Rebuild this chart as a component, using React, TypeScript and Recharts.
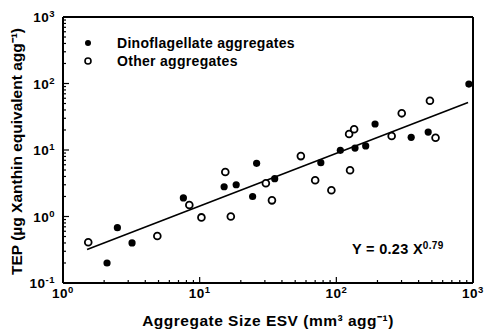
import {
  ScatterChart,
  Scatter,
  XAxis,
  YAxis,
  ReferenceLine,
  Legend,
} from 'recharts'

// aggregate size ESV (mm3 agg-1) vs TEP (ug Xanthin equivalent agg-1)
const dinoX = [2.1, 2.5, 3.2, 7.6, 15.1, 18.5, 24.4, 26.1, 35.4, 77, 107, 137, 164, 192, 353, 470, 933]
const dinoY = [0.2, 0.68, 0.4, 1.9, 2.8, 3.0, 2.0, 6.3, 3.7, 6.45, 9.9, 10.7, 11.5, 24.6, 15.5, 18.6, 98]

const otherX = [1.53, 4.9, 8.4, 10.3, 15.4, 16.9, 30.5, 33.8, 55, 70, 92, 124, 135, 126, 254, 301, 484, 532]
const otherY = [0.41, 0.51, 1.49, 0.97, 4.67, 1.0, 3.16, 1.75, 8.1, 3.5, 2.48, 17.4, 20.5, 4.95, 16.2, 35.6, 55, 15.3]

// end points of the fitted line
const fitX = [1.5, 920]
const fitY = [0.32, 52]

const xDecades = [1, 10, 100, 1000]
const xExp = ['0', '1', '2', '3']
const yDecades = [0.1, 1, 10, 100, 1000]
const yExp = ['-1', '0', '1', '2', '3']

const minorTicks = (decades: number[]) => {
  const out: number[] = []
  decades.slice(0, -1).forEach((d) => {
    for (let m = 1; m < 10; m++) out.push(d * m)
  })
  out.push(decades[decades.length - 1])
  return out
}

const dino = dinoX.map((x, i) => ({ x, y: dinoY[i] }))
const other = otherX.map((x, i) => ({ x, y: otherY[i] }))
const fit = fitX.map((x, i) => ({ x, y: fitY[i] }))

const FONT = '"Liberation Sans", Arial, Helvetica, sans-serif'

function XTick({ x, y, payload }: any) {
  const i = xDecades.findIndex((d) => Math.abs(d - payload.value) < 1e-9)
  const major = i >= 0
  return (
    <g>
      <line x1={x} x2={x} y1={y} y2={y - (major ? 6 : 3)} stroke="#000" strokeWidth={1.2} />
      {major && (
        <text x={x} y={y + 15} textAnchor="middle" fontSize={13.5} fontWeight={700} fill="#000" fontFamily={FONT} letterSpacing={0.5}>
          <tspan>10</tspan>
          <tspan dy={-5} fontSize={9.5}>{xExp[i]}</tspan>
        </text>
      )}
    </g>
  )
}

function YTick({ x, y, payload }: any) {
  const i = yDecades.findIndex((d) => Math.abs(d - payload.value) / d < 1e-6)
  const major = i >= 0
  return (
    <g>
      <line x1={x} x2={x + (major ? 6 : 3)} y1={y} y2={y} stroke="#000" strokeWidth={1.2} />
      {major && (
        <text x={x - 8} y={y + 5} textAnchor="end" fontSize={13.5} fontWeight={700} fill="#000" fontFamily={FONT} letterSpacing={0.5}>
          <tspan>10</tspan>
          <tspan dy={-5} fontSize={9.5}>{yExp[i]}</tspan>
        </text>
      )}
    </g>
  )
}

const filledDot = (p: any) => <circle cx={p.cx} cy={p.cy} r={3.6} fill="#000" />
const openDot = (p: any) => <circle cx={p.cx} cy={p.cy} r={3.4} fill="#fff" stroke="#000" strokeWidth={1.8} />

function LegendBox() {
  const rows = [
    { label: 'Dinoflagellate aggregates', filled: true },
    { label: 'Other aggregates', filled: false },
  ]
  return (
    <div style={{ fontFamily: FONT, fontSize: 14, fontWeight: 700, lineHeight: '18px', letterSpacing: 0.3 }}>
      {rows.map((r) => (
        <div key={r.label} style={{ display: 'flex', alignItems: 'center' }}>
          <svg width={34} height={18}>
            {r.filled ? (
              <circle cx={5} cy={9} r={3} fill="#000" />
            ) : (
              <circle cx={5} cy={9} r={3} fill="#fff" stroke="#000" strokeWidth={1.6} />
            )}
          </svg>
          <span>{r.label}</span>
        </div>
      ))}
    </div>
  )
}

export default function App() {
  return (
    <div style={{ position: 'absolute', left: 0, top: 0, background: '#fff' }}>
      <ScatterChart width={487} height={330} margin={{ top: 17, right: 14, bottom: 17, left: 8 }}>
        <XAxis
          dataKey="x"
          type="number"
          scale="log"
          domain={[1, 1000]}
          allowDataOverflow
          ticks={minorTicks(xDecades)}
          interval={0}
          tickSize={0}
          tickMargin={0}
          height={30}
          tick={<XTick />}
          axisLine={{ stroke: '#000', strokeWidth: 2 }}
          label={{
            value: 'Aggregate Size ESV (mm³ agg⁻¹)',
            position: 'insideBottom',
            offset: -13,
            fontSize: 15.5,
            fontWeight: 700,
            fill: '#000',
            fontFamily: FONT,
            letterSpacing: 0.5,
          }}
        />
        <YAxis
          dataKey="y"
          type="number"
          scale="log"
          domain={[0.1, 1000]}
          allowDataOverflow
          ticks={minorTicks(yDecades)}
          interval={0}
          tickSize={0}
          tickMargin={0}
          width={55}
          tick={<YTick />}
          axisLine={{ stroke: '#000', strokeWidth: 2 }}
          label={{
            value: 'TEP (µg Xanthin equivalent agg⁻¹)',
            angle: -90,
            position: 'insideLeft',
            offset: 8,
            dy: 125,
            fontSize: 15.5,
            fontWeight: 700,
            fill: '#000',
            fontFamily: FONT,
          }}
        />
        <ReferenceLine y={1000} stroke="#000" strokeWidth={2} />
        <ReferenceLine x={1000} stroke="#000" strokeWidth={2} />
        <Legend
          layout="vertical"
          align="center"
          verticalAlign="middle"
          wrapperStyle={{ left: 83, top: 34, width: 'auto' }}
          content={<LegendBox />}
        />
        <Scatter
          data={fit}
          line={{ stroke: '#000', strokeWidth: 1.6 }}
          shape={() => <g />}
          legendType="none"
          isAnimationActive={false}
        />
        <Scatter data={dino} shape={filledDot} isAnimationActive={false} />
        <Scatter data={other} shape={openDot} isAnimationActive={false} />
        <text x={352} y={254} fontSize={14.5} fontWeight={700} fill="#000" fontFamily={FONT} letterSpacing={0.3}>
          <tspan>Y = 0.23 X</tspan>
          <tspan dy={-5} fontSize={10}>0.79</tspan>
        </text>
      </ScatterChart>
    </div>
  )
}
